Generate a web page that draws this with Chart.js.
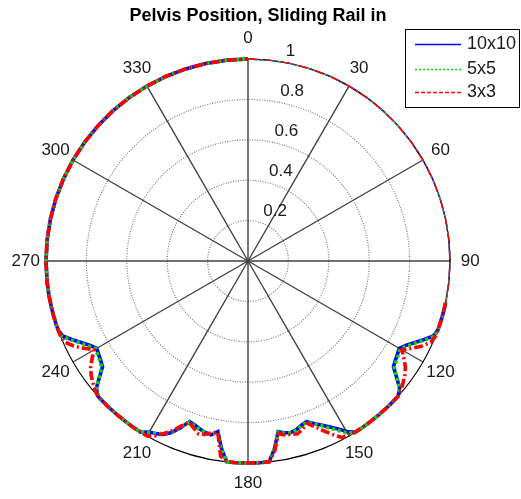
<!DOCTYPE html>
<html>
<head>
<meta charset="utf-8">
<script src="https://cdn.jsdelivr.net/npm/chart.js@4.4.0/dist/chart.umd.min.js"></script>
<style>
  html, body { margin: 0; padding: 0; background: #ffffff; }
  #wrap { width: 521px; height: 499px; }
</style>
</head>
<body>
<div id="wrap"><canvas id="c" width="521" height="499"></canvas></div>
<script>
// Sample angles in degrees (0 at top, clockwise)
const angleDeg = [
  0, 6, 12, 18, 24, 30, 36, 42, 48, 54, 60, 66, 72, 78, 84, 90, 96, 102,
  104, 106, 108, 110, 112, 114, 116, 118, 120, 122, 124, 126, 128, 130, 132, 134, 136,
  140,
  144, 146, 148, 150, 152, 154, 156, 158,
  160, 162, 164, 166, 168, 170, 172, 174,
  176, 178, 180, 182, 184, 186, 188, 190,
  192, 194, 196, 198, 200, 202, 204, 206,
  208, 210, 212, 214, 216,
  220,
  224, 226, 228, 230, 232, 234, 236, 238, 240, 242, 244, 246, 248, 250, 252, 254, 256,
  260,
  264, 270, 276, 282, 288, 294, 300, 306, 312, 318, 324, 330, 336, 342, 348, 354, 360
];

// Normalised radius per mesh size
const r10x10 = [
  1, 1, 1, 1, 1, 1, 1, 1, 1, 1, 1, 1, 1, 1, 1, 1, 1, 1,
  1, 1, 1, 1, 0.99, 0.955, 0.92, 0.888, 0.865, 0.872, 0.88, 0.89, 0.933, 0.98, 1, 1, 1,
  1,
  1, 1, 1, 0.975, 0.94, 0.913, 0.889, 0.867,
  0.847, 0.855, 0.868, 0.875, 0.87, 0.858, 0.94, 1,
  1, 1, 1, 1, 1, 1, 0.94, 0.858,
  0.88, 0.875, 0.865, 0.853, 0.846, 0.89, 0.93, 0.955,
  0.968, 0.978, 1, 1, 1,
  1,
  1, 1, 1, 0.98, 0.933, 0.89, 0.88, 0.872, 0.865, 0.888, 0.92, 0.955, 0.99, 1, 1, 1, 1,
  1,
  1, 1, 1, 1, 1, 1, 1, 1, 1, 1, 1, 1, 1, 1, 1, 1, 1
];
const r5x5 = [
  1, 1, 1, 1, 1, 1, 1, 1, 1, 1, 1, 1, 1, 1, 1, 1, 1, 1,
  1, 1, 1, 1, 0.995, 0.96, 0.925, 0.895, 0.87, 0.878, 0.885, 0.895, 0.935, 0.98, 1, 1, 1,
  1,
  1, 1, 1, 0.985, 0.95, 0.92, 0.893, 0.87,
  0.85, 0.858, 0.87, 0.877, 0.872, 0.86, 0.94, 1,
  1, 1, 1, 1, 1, 1, 0.945, 0.86,
  0.878, 0.875, 0.868, 0.857, 0.85, 0.885, 0.925, 0.95,
  0.967, 0.98, 1, 1, 1,
  1,
  1, 1, 1, 0.98, 0.935, 0.895, 0.885, 0.878, 0.87, 0.895, 0.925, 0.96, 0.995, 1, 1, 1, 1,
  1,
  1, 1, 1, 1, 1, 1, 1, 1, 1, 1, 1, 1, 1, 1, 1, 1, 1
];
const r3x3 = [
  1, 1, 1, 1, 1, 1, 1, 1, 1, 1, 1, 1, 1, 1, 1, 1, 1, 1,
  1, 1, 1, 1, 1, 0.99, 0.96, 0.92, 0.88, 0.91, 0.94, 0.96, 0.975, 0.99, 1, 1, 1,
  1,
  1, 1, 1, 0.995, 0.99, 0.955, 0.92, 0.885,
  0.855, 0.875, 0.89, 0.885, 0.88, 0.868, 0.95, 1,
  1, 1, 1, 1, 1, 1, 0.975, 0.86,
  0.87, 0.885, 0.89, 0.87, 0.85, 0.88, 0.92, 0.95,
  0.98, 1, 1, 1, 1,
  1,
  1, 1, 1, 0.99, 0.975, 0.96, 0.94, 0.91, 0.88, 0.92, 0.96, 0.99, 1, 1, 1, 1, 1,
  1,
  1, 1, 1, 1, 1, 1, 1, 1, 1, 1, 1, 1, 1, 1, 1, 1, 1
];

const seriesNames = ['10x10', '5x5', '3x3'];
const ringValues = [0.2, 0.4, 0.6, 0.8, 1];
const ringLabels = ['0.2', '0.4', '0.6', '0.8', '1'];
const spokeAngles = [0, 30, 60, 90, 120, 150, 180, 210, 240, 270, 300, 330];
const spokeLabels = ['0', '30', '60', '90', '120', '150', '180', '210', '240', '270', '300', '330'];
const titleText = 'Pelvis Position, Sliding Rail in';

const FONT = "'Liberation Sans', Arial, Helvetica, sans-serif";
const rad = d => d * Math.PI / 180;

function toXY(rs) {
  return rs.map((r, i) => ({ x: r * Math.sin(rad(angleDeg[i])), y: r * Math.cos(rad(angleDeg[i])) }));
}

// thinner trace across the upper-right quadrant
function segWidth(ctx) {
  return angleDeg[ctx.p1DataIndex] <= 102 ? 1.4 : 3.6;
}

const styles = [
  { color: '#0000ff', dash: [], order: 3 },
  { color: '#00e000', dash: [3, 3], order: 2 },
  { color: '#ff0000', dash: [9, 3, 2, 3], order: 1 }
];
const seriesData = [r10x10, r5x5, r3x3];

const polarFrame = {
  id: 'polarFrame',
  beforeDatasetsDraw(chart) {
    const { ctx } = chart;
    const xs = chart.scales.x, ys = chart.scales.y;
    const cx = xs.getPixelForValue(0), cy = ys.getPixelForValue(0);
    ctx.save();
    // dotted inner rings
    ctx.strokeStyle = '#7a7a7a';
    ctx.lineWidth = 1.2;
    ctx.setLineDash([1, 1.5]);
    ringValues.forEach(v => {
      if (v >= 1) return;
      const rp = xs.getPixelForValue(v) - cx;
      ctx.beginPath();
      ctx.arc(cx, cy, rp, 0, Math.PI * 2);
      ctx.stroke();
    });
    ctx.setLineDash([]);
    // spokes
    ctx.strokeStyle = '#404040';
    ctx.lineWidth = 1.4;
    spokeAngles.forEach(a => {
      ctx.beginPath();
      ctx.moveTo(cx, cy);
      ctx.lineTo(xs.getPixelForValue(Math.sin(rad(a))), ys.getPixelForValue(Math.cos(rad(a))));
      ctx.stroke();
    });
    // outer boundary
    ctx.strokeStyle = '#000000';
    ctx.lineWidth = 1.2;
    ctx.beginPath();
    ctx.arc(cx, cy, xs.getPixelForValue(1) - cx, 0, Math.PI * 2);
    ctx.stroke();
    ctx.restore();
  },
  afterDraw(chart) {
    const { ctx } = chart;
    const xs = chart.scales.x, ys = chart.scales.y;
    ctx.save();
    ctx.fillStyle = '#1a1a1a';
    ctx.font = '17px ' + FONT;
    // angle labels
    ctx.textAlign = 'center';
    ctx.textBaseline = 'middle';
    spokeAngles.forEach((a, i) => {
      ctx.fillText(spokeLabels[i],
        xs.getPixelForValue(1.1 * Math.sin(rad(a))),
        ys.getPixelForValue(1.1 * Math.cos(rad(a))));
    });
    // ring labels
    ctx.textAlign = 'left';
    ctx.textBaseline = 'bottom';
    ringValues.forEach((v, i) => {
      const rr = v + 0.01;
      ctx.fillText('  ' + ringLabels[i],
        xs.getPixelForValue(rr * Math.sin(rad(8))),
        ys.getPixelForValue(rr * Math.cos(rad(8))) + 1);
    });
    // title
    ctx.fillStyle = '#000000';
    ctx.font = 'bold 18px ' + FONT;
    ctx.textAlign = 'center';
    ctx.textBaseline = 'middle';
    ctx.fillText(titleText, 258, 16);
    // legend
    const bx = 405.5, by = 29.5, bw = 114, bh = 78;
    ctx.fillStyle = '#ffffff';
    ctx.fillRect(bx, by, bw, bh);
    ctx.strokeStyle = '#000000';
    ctx.lineWidth = 1;
    ctx.strokeRect(bx, by, bw, bh);
    const rows = [44, 69, 92];
    ctx.font = '18px ' + FONT;
    ctx.textAlign = 'left';
    ctx.textBaseline = 'middle';
    seriesNames.forEach((name, i) => {
      ctx.strokeStyle = styles[i].color;
      ctx.lineWidth = 1.5;
      ctx.setLineDash(i === 0 ? [] : (i === 1 ? [2, 2] : [4, 2]));
      ctx.beginPath();
      ctx.moveTo(415, rows[i] + 0.5);
      ctx.lineTo(461, rows[i] + 0.5);
      ctx.stroke();
      ctx.setLineDash([]);
      ctx.fillStyle = '#1a1a1a';
      ctx.fillText(name, 467, rows[i]);
    });
    ctx.restore();
  }
};

new Chart(document.getElementById('c'), {
  type: 'scatter',
  data: {
    datasets: seriesData.map((rs, i) => ({
      label: seriesNames[i],
      data: toXY(rs),
      showLine: true,
      fill: false,
      tension: 0,
      pointRadius: 0,
      borderColor: styles[i].color,
      borderDash: styles[i].dash,
      borderWidth: 3.6,
      borderCapStyle: 'butt',
      order: styles[i].order,
      clip: false,
      segment: { borderWidth: segWidth }
    }))
  },
  options: {
    responsive: false,
    devicePixelRatio: 1,
    animation: false,
    events: [],
    layout: { padding: { left: 46, right: 71, top: 59, bottom: 36 } },
    scales: {
      x: { type: 'linear', min: -1, max: 1, display: false },
      y: { type: 'linear', min: -1, max: 1, display: false }
    },
    plugins: {
      legend: { display: false },
      title: { display: false },
      tooltip: { enabled: false }
    }
  },
  plugins: [polarFrame]
});
</script>
</body>
</html>
